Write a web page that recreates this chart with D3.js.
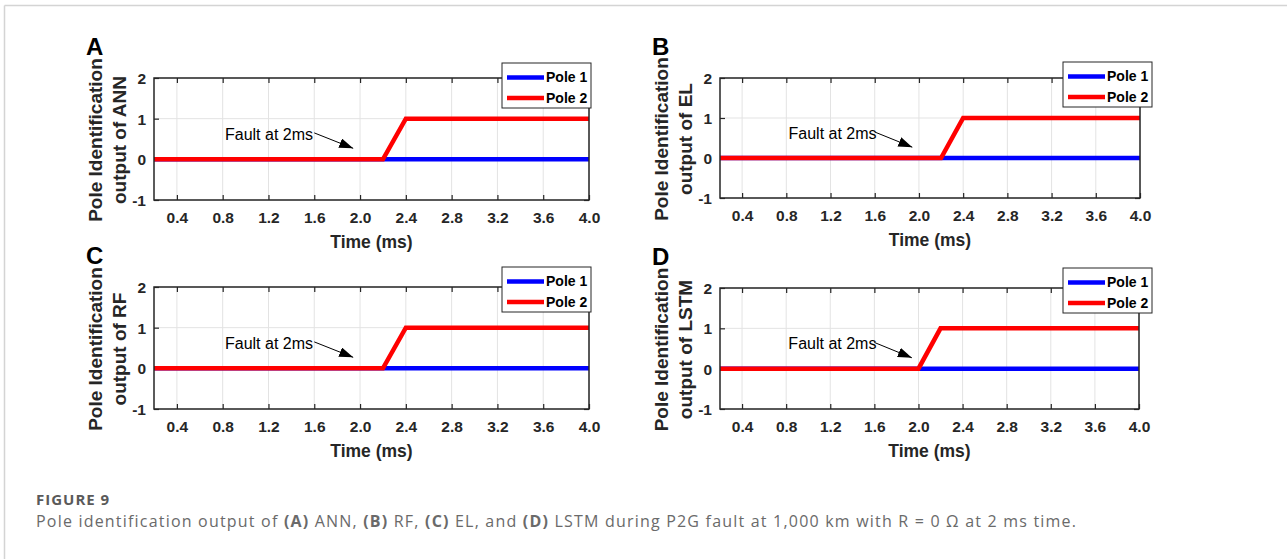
<!DOCTYPE html>
<html>
<head>
<meta charset="utf-8">
<script src="https://cdn.jsdelivr.net/npm/d3@7"></script>
<style>
  body { margin: 0; background: #fff; }
  svg { display: block; }
</style>
</head>
<body>
<svg width="1287" height="559"></svg>
<script>
// values
const timeTicks = [0.4, 0.8, 1.2, 1.6, 2.0, 2.4, 2.8, 3.2, 3.6, 4.0];
const valueTicks = [-1, 0, 1, 2];
const panelLetters = ['A', 'B', 'C', 'D'];
const models = ['ANN', 'EL', 'RF', 'LSTM'];
const seriesNames = ['Pole 1', 'Pole 2'];
const seriesColors = ['#0000ff', '#ff0000'];

// pole 1 stays at 0 for every model
const pole1 = [[0.2, 0], [4.0, 0]];
// pole 2 : time (ms), output
const pole2ANN = [[0.2, 0], [2.2, 0], [2.4, 1], [4.0, 1]];
const pole2EL = [[0.2, 0], [2.2, 0], [2.4, 1], [4.0, 1]];
const pole2RF = [[0.2, 0], [2.2, 0], [2.4, 1], [4.0, 1]];
const pole2LSTM = [[0.2, 0], [2.0, 0], [2.2, 1], [4.0, 1]];
const pole2 = [pole2ANN, pole2EL, pole2RF, pole2LSTM];

// annotation "Fault at 2ms" (data coords)
const noteText = 'Fault at 2ms';
const notePos = [0.82, 0.48];
const arrowFrom = [1.6, 0.65];
const arrowTo = [1.94, 0.27];

// panel boxes
const boxes = [
  { left: 154, top: 78, w: 435, h: 122, legX: 502, legY: 63 },
  { left: 720, top: 78, w: 420, h: 120, legX: 1063, legY: 62 },
  { left: 154, top: 287, w: 435, h: 122, legX: 502, legY: 267 },
  { left: 720, top: 288, w: 419, h: 121, legX: 1063, legY: 268 }
];

const svg = d3.select('svg');
const font = '"Liberation Sans", Arial, sans-serif';

// page frame (top + left rule)
svg.append('line').attr('x1', 4.5).attr('x2', 1287).attr('y1', 5.5).attr('y2', 5.5)
  .attr('stroke', '#d4d4d4').attr('stroke-width', 1.5);
svg.append('line').attr('x1', 4.5).attr('x2', 4.5).attr('y1', 5.5).attr('y2', 559)
  .attr('stroke', '#d4d4d4').attr('stroke-width', 1.5);

const defs = svg.append('defs');
defs.append('marker')
  .attr('id', 'head')
  .attr('viewBox', '0 0 14 10')
  .attr('refX', 14).attr('refY', 5)
  .attr('markerWidth', 14).attr('markerHeight', 10)
  .attr('markerUnits', 'userSpaceOnUse')
  .attr('orient', 'auto')
  .append('path').attr('d', 'M0,0 L14,5 L0,10 Z').attr('fill', '#000');

boxes.forEach((b, i) => {
  const x = d3.scaleLinear().domain([0.2, 4.0]).range([0, b.w]);
  const y = d3.scaleLinear().domain([-1, 2]).range([b.h, 0]);

  const g = svg.append('g').attr('transform', `translate(${b.left},${b.top})`);

  // grid
  g.append('g').selectAll('line').data(timeTicks).enter().append('line')
    .attr('x1', d => x(d)).attr('x2', d => x(d)).attr('y1', 0).attr('y2', b.h)
    .attr('stroke', '#e3e3e3').attr('stroke-width', 1);
  g.append('g').selectAll('line').data(valueTicks).enter().append('line')
    .attr('y1', d => y(d)).attr('y2', d => y(d)).attr('x1', 0).attr('x2', b.w)
    .attr('stroke', '#e3e3e3').attr('stroke-width', 1);

  // axes, ticks pointing inward like matlab
  const xa = g.append('g').attr('transform', `translate(0,${b.h})`)
    .call(d3.axisBottom(x).tickValues(timeTicks).tickFormat(d3.format('.1f')).tickSizeInner(-5).tickSizeOuter(0).tickPadding(12));
  const xt = g.append('g')
    .call(d3.axisTop(x).tickValues(timeTicks).tickFormat('').tickSizeInner(-5).tickSizeOuter(0));
  const ya = g.append('g')
    .call(d3.axisLeft(y).tickValues(valueTicks).tickFormat(d => String(d)).tickSizeInner(-5).tickSizeOuter(0).tickPadding(8));
  const yr = g.append('g').attr('transform', `translate(${b.w},0)`)
    .call(d3.axisRight(y).tickValues(valueTicks).tickFormat('').tickSizeInner(-5).tickSizeOuter(0));
  [xa, xt, ya, yr].forEach(a => {
    a.select('.domain').remove();
    a.selectAll('line').attr('stroke', '#262626').attr('stroke-width', 1.2);
    a.selectAll('text').attr('font-family', font).attr('font-weight', 'bold')
      .attr('font-size', 15.5).attr('fill', '#262626');
  });
  ya.selectAll('text').attr('dy', '0.36em');

  // lines
  const line = d3.line().x(d => x(d[0])).y(d => y(d[1]));
  [pole1, pole2[i]].forEach((s, k) => {
    g.append('path').datum(s).attr('d', line)
      .attr('fill', 'none').attr('stroke', seriesColors[k])
      .attr('stroke-width', 4.5).attr('stroke-linejoin', 'miter');
  });

  // box
  g.append('rect').attr('width', b.w).attr('height', b.h)
    .attr('fill', 'none').attr('stroke', '#262626').attr('stroke-width', 1.5);

  // annotation
  g.append('text').attr('x', x(notePos[0])).attr('y', y(notePos[1]))
    .attr('font-family', font).attr('font-size', 16).attr('fill', '#000')
    .text(noteText);
  g.append('line')
    .attr('x1', x(arrowFrom[0])).attr('y1', y(arrowFrom[1]))
    .attr('x2', x(arrowTo[0])).attr('y2', y(arrowTo[1]))
    .attr('stroke', '#000').attr('stroke-width', 1)
    .attr('marker-end', 'url(#head)');

  // axis titles
  g.append('text').attr('x', b.w / 2).attr('y', b.h + 48)
    .attr('text-anchor', 'middle').attr('font-family', font).attr('font-weight', 'bold')
    .attr('font-size', 17.5).attr('fill', '#262626').text('Time (ms)');
  const yl = g.append('text').attr('transform', `translate(-47,${b.h / 2 + 1}) rotate(-90)`)
    .attr('text-anchor', 'middle').attr('font-family', font).attr('font-weight', 'bold')
    .attr('font-size', 19).attr('fill', '#262626');
  yl.append('tspan').attr('x', 0).attr('y', -5).text('Pole Identification');
  yl.append('tspan').attr('x', 0).attr('y', 19).text('output of ' + models[i]);

  // legend
  const lg = svg.append('g').attr('transform', `translate(${b.legX},${b.legY})`);
  lg.append('rect').attr('width', 89).attr('height', 45)
    .attr('fill', '#fff').attr('stroke', '#262626').attr('stroke-width', 1);
  seriesNames.forEach((n, k) => {
    const cy = 14.5 + k * 20.5;
    lg.append('line').attr('x1', 5).attr('x2', 42).attr('y1', cy).attr('y2', cy)
      .attr('stroke', seriesColors[k]).attr('stroke-width', 4.5);
    lg.append('text').attr('x', 44).attr('y', cy).attr('dy', '0.35em')
      .attr('font-family', font).attr('font-weight', 'bold').attr('font-size', 14)
      .attr('fill', '#000').text(n);
  });

  // panel letter
  svg.append('text').attr('x', b.left - 68).attr('y', b.top - 23)
    .attr('font-family', font).attr('font-weight', 'bold').attr('font-size', 24)
    .attr('fill', '#000').text(panelLetters[i]);
});

// caption
const capFont = '"Open Sans", "Noto Sans", sans-serif';
svg.append('text').attr('x', 36).attr('y', 505)
  .attr('font-family', capFont).attr('font-weight', 'bold').attr('font-size', 15)
  .attr('letter-spacing', 1).attr('fill', '#5a5a5a').text('FIGURE 9');
const cap = svg.append('text').attr('x', 36).attr('y', 527)
  .attr('font-family', capFont).attr('font-size', 16).attr('letter-spacing', 1.2)
  .attr('fill', '#6a6a6a');
const capParts = [
  ['Pole identification output of ', false], ['(A)', true], [' ANN, ', false],
  ['(B)', true], [' RF, ', false], ['(C)', true], [' EL, and ', false],
  ['(D)', true], [' LSTM during P2G fault at 1,000 km with R = 0 \u03A9 at 2 ms time.', false]
];
capParts.forEach(p => {
  cap.append('tspan').attr('font-weight', p[1] ? 'bold' : 'normal').text(p[0]);
});
</script>
</body>
</html>
